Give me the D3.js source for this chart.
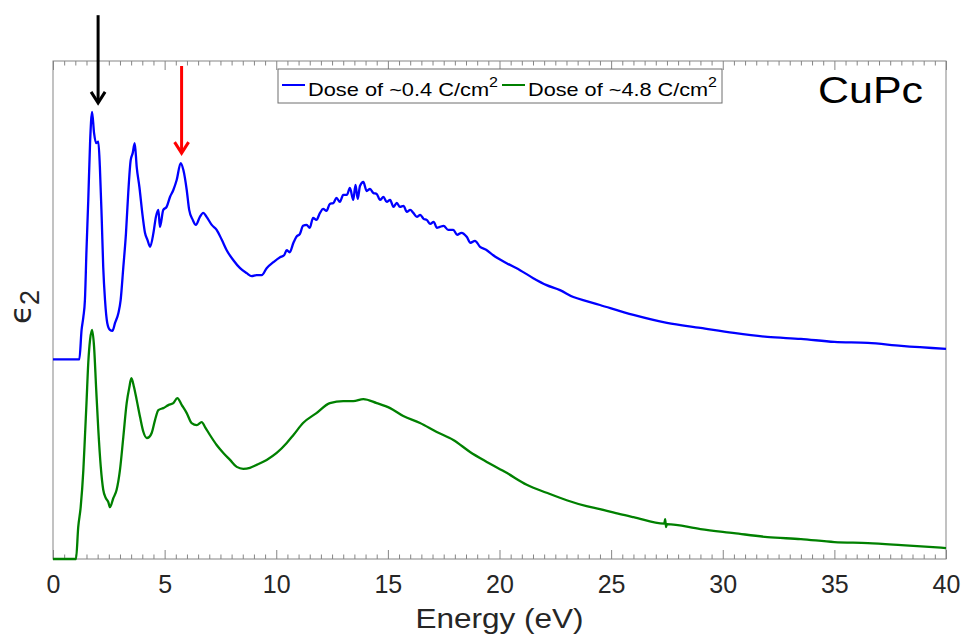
<!DOCTYPE html>
<html lang="en">
<head>
    <meta charset="UTF-8">
    <title>CuPc eps2</title>
    <script src="https://d3js.org/d3.v7.min.js"></script>
    <style>
        body { margin: 0; background: #fff; }
        text { font-family: "Liberation Sans", Arial, Helvetica, sans-serif; }
    </style>
</head>
<body>
    <div id="chart"></div>
    <script>
        // eps2 in arbitrary units (0..100 = bottom..top of the plot box)
        var energyBlue = [0, 1.18, 1.28, 1.36, 1.43, 1.5, 1.58, 1.66, 1.75, 1.84, 1.93, 2.03, 2.1, 2.18, 2.25, 2.33, 2.43, 2.55,
            2.66, 2.78, 2.93, 3.03, 3.15, 3.27, 3.37, 3.48, 3.57, 3.66, 3.75, 3.87, 4.02, 4.12, 4.23, 4.35, 4.5, 4.61, 4.72,
            4.79, 4.94, 5.09, 5.24, 5.39, 5.54, 5.72, 5.84, 5.99, 6.1, 6.26, 6.4, 6.58, 6.73, 6.88, 7.11, 7.33, 7.56, 7.78,
            8.08, 8.38, 8.68, 8.9, 9.12, 9.35, 9.57, 9.87, 10.17, 10.35, 10.47, 10.6, 10.77, 10.9, 11.06, 11.2, 11.36, 11.5,
            11.65, 11.8, 11.96, 12.1, 12.25, 12.4, 12.56, 12.7, 12.85, 13.0, 13.16, 13.3, 13.45, 13.55, 13.65, 13.75, 13.9,
            14.05, 14.2, 14.35, 14.5, 14.65, 14.8, 14.95, 15.1, 15.25, 15.4, 15.54, 15.7, 15.85, 16.0, 16.14, 16.3, 16.45,
            16.6, 16.74, 16.9, 17.05, 17.2, 17.33, 17.5, 17.7, 17.93, 18.1, 18.3, 18.53, 18.7, 18.9, 19.13, 19.4, 19.72,
            20.32, 20.92, 21.51, 22.11, 22.71, 23.31, 23.9, 24.5, 26.0, 27.5, 29.0, 30.5, 32.0, 33.5, 35.0, 36.5, 38.0, 40]
        var eps2Blue = [40.1, 40.1, 46.0, 48.6, 52.0, 62.0, 72.1, 83.5, 89.8, 85.5, 83.5, 83.8, 78.7, 68.7, 58.6, 52.0, 47.4, 46.0,
            45.8, 47.4, 49.4, 52.0, 58.6, 65.5, 73.5, 80.1, 81.5, 83.5, 78.7, 74.7, 68.7, 65.5, 64.1, 62.7, 65.5, 68.7, 70.1,
            66.7, 70.1, 70.7, 72.7, 74.1, 76.1, 79.5, 78.1, 74.1, 70.1, 68.1, 67.1, 68.7, 69.5, 68.7, 67.1, 66.1, 64.1, 62.0,
            60.0, 58.4, 57.4, 56.8, 57.0, 57.0, 58.4, 59.6, 60.6, 61.0, 62.0, 61.6, 63.5, 64.7, 65.3, 66.9, 67.1, 66.5,
            68.5, 68.1, 69.5, 70.3, 69.9, 71.3, 71.5, 72.5, 71.7, 73.1, 73.1, 74.5, 72.1, 75.1, 72.3, 74.9, 75.7,
            73.9, 74.3, 73.5, 73.3, 72.1, 72.7, 71.7, 72.1, 70.7, 71.5, 70.7, 70.9, 69.7, 70.1, 69.5, 68.7, 69.1,
            68.3, 68.1, 67.3, 67.7, 66.5, 66.7, 66.9, 66.1, 66.1, 65.1, 65.5, 64.7, 63.5, 63.9, 62.7, 62.1, 61.0,
            59.4, 58.0, 56.4, 55.0, 54.0, 52.6, 51.8, 51.0, 49.0, 47.4, 46.4, 45.4, 44.6, 44.2, 43.6, 43.4, 42.8, 42.2]

        var energyGreen = [0, 1.03, 1.13, 1.24, 1.36, 1.43, 1.5, 1.58, 1.66, 1.75, 1.84, 1.93, 2.03, 2.14, 2.25, 2.37, 2.48, 2.55,
            2.7, 2.85, 3.0, 3.15, 3.3, 3.42, 3.51, 3.63, 3.75, 3.9, 4.05, 4.2, 4.31, 4.42, 4.57, 4.72, 4.94, 5.17, 5.39, 5.57,
            5.77, 5.99, 6.21, 6.44, 6.66, 6.81, 7.03, 7.33, 7.63, 7.93, 8.23, 8.52, 8.82, 9.12, 9.57, 10.02, 10.47, 10.77,
            11.2, 11.8, 12.4, 13.0, 13.45, 13.9, 14.5, 15.1, 15.69, 16.44, 17.19, 17.93, 18.68, 19.43, 20.32, 21.22, 22.11,
            23.01, 23.9, 24.5, 25.4, 26.0, 27.38, 27.42, 27.46, 27.5, 29.0, 30.5, 32.0, 33.5, 35.0, 36.5, 38.0, 40]
        var eps2Green = [0, 0, 6.4, 10.4, 17.9, 24.5, 31.3, 39.4, 44.0, 46.0, 42.6, 34.5, 25.9, 18.5, 13.9, 12.2, 11.4, 10.4,
            12.2, 13.9, 17.9, 24.5, 31.3, 34.5, 36.3, 34.5, 31.9, 28.5, 25.5, 24.3, 24.5, 25.3, 27.9, 29.9, 30.3, 30.9, 31.3, 32.3,
            30.9, 29.3, 27.3, 26.9, 27.5, 26.5, 24.9, 22.9, 21.3, 19.9, 18.5, 18.1, 18.3, 18.9, 19.9, 21.3, 23.3, 24.9,
            27.3, 29.3, 31.3, 31.7, 31.7, 32.1, 31.3, 30.3, 28.7, 27.3, 25.5, 23.9, 21.5, 19.5, 17.3, 14.9, 13.3,
            11.8, 10.6, 10.0, 9.0, 8.4, 7.1, 8.0, 6.4, 7.0, 6.0, 5.2, 4.4, 4.0, 3.4, 3.2, 2.8, 2.2]

        var seriesNames = ["Dose of ~0.4 C/cm", "Dose of ~4.8 C/cm"]
        var seriesColors = ["#0000ff", "#008000"]
        var majorTicks = [0, 5, 10, 15, 20, 25, 30, 35, 40]

        // arrows marking the peaks: energy, start value, tip value
        var arrows = [
            {e: 2.02, from: 109.2, to: 91.6, color: "#000000"},
            {e: 5.76, from: 99.0, to: 81.5, color: "#ff0000"}
        ]

        var width = 966
        var height = 636
        var margin = {top: 61, bottom: 77, left: 53, right: 20}

        var svg = d3.select("#chart")
            .append("svg")
            .attr("width", width)
            .attr("height", height)

        var x = d3.scaleLinear()
            .domain([0, 40])
            .range([margin.left, width - margin.right])

        var y = d3.scaleLinear()
            .domain([0, 100])
            .range([height - margin.bottom, margin.top])

        var minorTicks = d3.range(0, 40.001, 0.5).filter(function (t) { return t % 5 !== 0 })
        var axisColor = "#858585"

        // box
        svg.append("rect")
            .attr("x", x(0))
            .attr("y", y(100))
            .attr("width", x(40) - x(0))
            .attr("height", y(0) - y(100))
            .attr("fill", "none")
            .attr("stroke", axisColor)
            .attr("stroke-width", 1)

        function drawTicks(axis, ty) {
            var g = svg.append("g")
                .attr("transform", "translate(0," + ty + ")")
                .call(axis)
            g.select(".domain").remove()
            g.selectAll("line").attr("stroke", axisColor)
            return g
        }

        // bottom axis, ticks inward
        var bottomMajor = drawTicks(d3.axisBottom(x).tickValues(majorTicks).tickSizeInner(-9).tickSizeOuter(0).tickPadding(16), y(0))
        bottomMajor.selectAll("text")
            .attr("font-size", 25)
            .attr("font-family", "Liberation Sans, Arial, sans-serif")
            .attr("fill", "#262626")
        drawTicks(d3.axisBottom(x).tickValues(minorTicks).tickSizeInner(-4.5).tickSizeOuter(0).tickFormat(""), y(0))
        // top axis
        drawTicks(d3.axisTop(x).tickValues(majorTicks).tickSizeInner(-9).tickSizeOuter(0).tickFormat(""), y(100))
        drawTicks(d3.axisTop(x).tickValues(minorTicks).tickSizeInner(-4.5).tickSizeOuter(0).tickFormat(""), y(100))

        // axis labels
        svg.append("text")
            .attr("x", (x(0) + x(40)) / 2)
            .attr("y", 628)
            .attr("text-anchor", "middle")
            .attr("font-size", 27)
            .attr("fill", "#262626")
            .attr("textLength", 168)
            .attr("lengthAdjust", "spacingAndGlyphs")
            .text("Energy (eV)")

        var yLab = svg.append("text")
            .attr("transform", "translate(31,324) rotate(-90)")
            .attr("fill", "#262626")
        yLab.append("tspan").attr("font-size", 31).attr("font-family", "DejaVu Sans, sans-serif").text("\u03F5")
        yLab.append("tspan").attr("font-size", 27).attr("dy", 8).text("2")

        // curves
        var line = d3.line()
            .curve(d3.curveMonotoneX)
            .x(function (d) { return x(d[0]) })
            .y(function (d) { return y(d[1]) })

        var curves = [d3.zip(energyBlue, eps2Blue), d3.zip(energyGreen, eps2Green)]
        curves.forEach(function (pts, i) {
            svg.append("path")
                .datum(pts)
                .attr("d", line)
                .attr("fill", "none")
                .attr("stroke", seriesColors[i])
                .attr("stroke-width", 2.3)
                .attr("stroke-linejoin", "round")
        })

        // arrows
        arrows.forEach(function (a) {
            var ax = x(a.e), y0 = y(a.from), y1 = y(a.to)
            svg.append("line")
                .attr("x1", ax).attr("x2", ax)
                .attr("y1", y0).attr("y2", y1 - 1)
                .attr("stroke", a.color)
                .attr("stroke-width", 3)
            svg.append("path")
                .attr("d", "M" + (ax - 7) + "," + (y1 - 11) + "L" + ax + "," + y1 + "L" + (ax + 7) + "," + (y1 - 11))
                .attr("fill", "none")
                .attr("stroke", a.color)
                .attr("stroke-width", 3)
        })

        // legend
        var legend = svg.append("g")
        legend.append("rect")
            .attr("x", 278).attr("y", 69)
            .attr("width", 444).attr("height", 34)
            .attr("fill", "#fff")
            .attr("stroke", "#6e6e6e")
            .attr("stroke-width", 1)
        var legX = [[282, 305, 308, 190], [502, 525, 528, 189]]
        seriesNames.forEach(function (name, i) {
            legend.append("line")
                .attr("x1", legX[i][0]).attr("x2", legX[i][1])
                .attr("y1", 85).attr("y2", 85)
                .attr("stroke", seriesColors[i])
                .attr("stroke-width", 2)
            var t = legend.append("text")
                .attr("x", legX[i][2])
                .attr("y", 96)
                .attr("font-size", 19)
                .attr("fill", "#000")
                .attr("textLength", legX[i][3])
                .attr("lengthAdjust", "spacingAndGlyphs")
            t.append("tspan").text(name)
            t.append("tspan").attr("font-size", 14).attr("dy", -9).text("2")
        })

        // sample name
        svg.append("text")
            .attr("x", 818)
            .attr("y", 103)
            .attr("font-size", 36)
            .attr("fill", "#000")
            .attr("textLength", 105)
            .attr("lengthAdjust", "spacingAndGlyphs")
            .text("CuPc")
    </script>
</body>
</html>
